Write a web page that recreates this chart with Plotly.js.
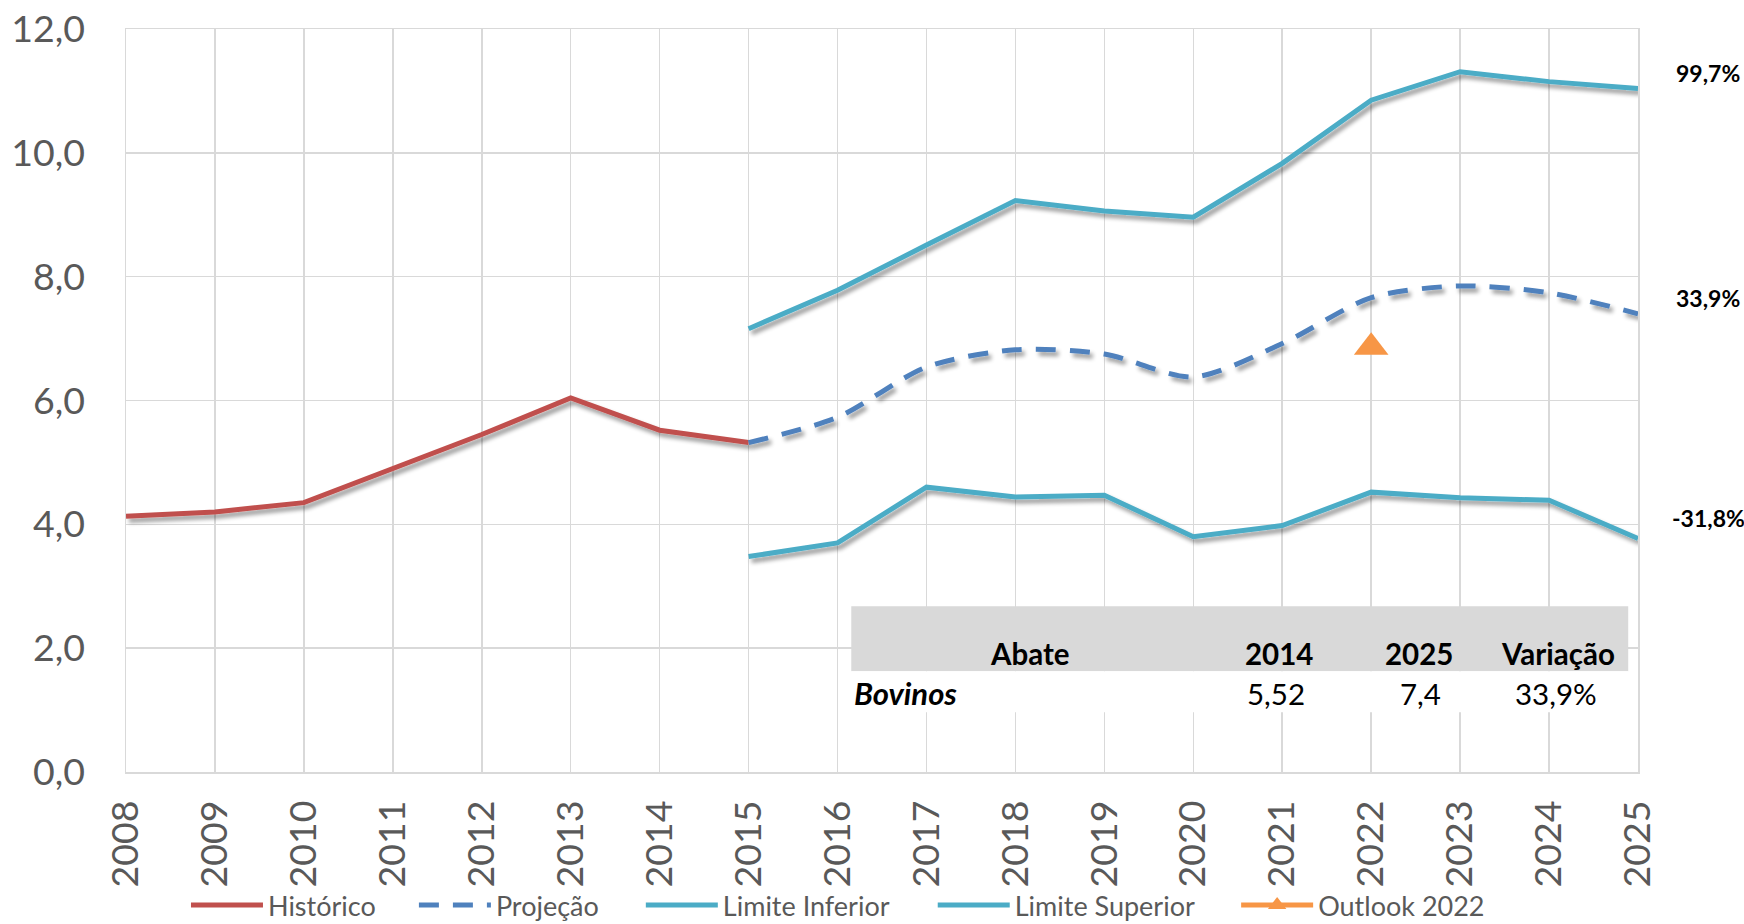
<!DOCTYPE html>
<html>
<head>
<meta charset="utf-8">
<script src="https://cdn.plot.ly/plotly-3.0.1.min.js"></script>
<style>
  html, body { margin: 0; padding: 0; background: #ffffff; }
  #chart { width: 1744px; height: 924px; }
  #chart .scatterlayer path.js-line { filter: url(#lineShadow); }
</style>
</head>
<body>
<svg width="0" height="0" style="position:absolute">
  <defs>
    <filter id="lineShadow" x="-10%" y="-10%" width="130%" height="140%" filterUnits="objectBoundingBox">
      <feGaussianBlur in="SourceAlpha" stdDeviation="2"/>
      <feOffset dx="3" dy="3.5" result="off"/>
      <feComponentTransfer><feFuncA type="linear" slope="0.4"/></feComponentTransfer>
      <feMerge><feMergeNode/><feMergeNode in="SourceGraphic"/></feMerge>
    </filter>
  </defs>
</svg>
<div id="chart"></div>
<script>
// ---- data ----
const years = [2008, 2009, 2010, 2011, 2012, 2013, 2014, 2015, 2016, 2017, 2018, 2019, 2020, 2021, 2022, 2023, 2024, 2025];
const histYears = [2008, 2009, 2010, 2011, 2012, 2013, 2014, 2015];
const historico = [4.13, 4.20, 4.35, 4.90, 5.45, 6.04, 5.52, 5.32];
const projYears = [2015, 2016, 2017, 2018, 2019, 2020, 2021, 2022, 2023, 2024, 2025];
const projecao = [5.32, 5.73, 6.54, 6.82, 6.75, 6.38, 6.92, 7.66, 7.85, 7.74, 7.40];
const limiteInferior = [3.48, 3.70, 4.60, 4.44, 4.47, 3.80, 3.98, 4.52, 4.43, 4.39, 3.77];
const limiteSuperior = [7.16, 7.78, 8.51, 9.23, 9.06, 8.96, 9.83, 10.85, 11.31, 11.15, 11.04];
const outlookYears = [2022];
const outlook2022 = [6.86];
const seriesNames = ["Histórico", "Projeção", "Limite Inferior", "Limite Superior", "Outlook 2022"];
const endLabels = ["99,7%", "33,9%", "-31,8%"];
const tableHeader = ["Abate", "2014", "2025", "Variação"];
const tableRowLabel = "Bovinos";
const tableRow = ["5,52", "7,4", "33,9%"];
const yTicks = [0, 2, 4, 6, 8, 10, 12];

// ---- styling ----
const FONT = "Lato, 'Noto Sans', sans-serif";
const GRID = "#d9d9d9";
const TICKC = "#595959";
const LW = 5;

const traces = [
  { x: histYears, y: historico, name: seriesNames[0], type: "scatter", mode: "lines", legend: "legend",
    line: { color: "#C0504D", width: LW } },
  { x: projYears, y: projecao, name: seriesNames[1], type: "scatter", mode: "lines", legend: "legend2",
    line: { color: "#4F81BD", width: LW, dash: "20px,14px", shape: "spline", smoothing: 0.8 } },
  { x: projYears, y: limiteInferior, name: seriesNames[2], type: "scatter", mode: "lines", legend: "legend3",
    line: { color: "#4BACC6", width: LW } },
  { x: projYears, y: limiteSuperior, name: seriesNames[3], type: "scatter", mode: "lines", legend: "legend4",
    line: { color: "#4BACC6", width: LW } },
  { x: outlookYears, y: outlook2022, name: seriesNames[4], type: "scatter", mode: "lines+markers", legend: "legend5",
    line: { color: "#F79646", width: LW },
    marker: { symbol: "triangle-up", size: 30, color: "#F79646" } }
];

const L = 126, R = 105.5, T = 29, B = 152.4;
const plotW = 1744 - L - R, plotH = 924 - T - B;
function px(xFull) { return (xFull - L) / plotW; }
function py(yFull) { return (924 - B - yFull) / plotH; }

const annotations = [];
const endY = [73, 298, 518];
endLabels.forEach((t, i) => {
  annotations.push({ xref: "paper", yref: "paper", x: px(1709), y: py(endY[i]),
    xanchor: "center", yanchor: "middle", showarrow: false, text: "<b>" + t + "</b>",
    font: { family: FONT, size: 23, color: "#000000" } });
});
const headX = [1030, 1279, 1419.5, 1558];
tableHeader.forEach((t, i) => {
  annotations.push({ xref: "paper", yref: "paper", x: px(headX[i]), y: py(653),
    xanchor: "center", yanchor: "middle", showarrow: false, text: "<b>" + t + "</b>",
    font: { family: FONT, size: 29.5, color: "#000000" } });
});
annotations.push({ xref: "paper", yref: "paper", x: px(852), y: py(693),
  xanchor: "left", yanchor: "middle", showarrow: false, text: "<b><i>" + tableRowLabel + "</i></b>",
  font: { family: FONT, size: 31, color: "#000000" } });
const rowX = [1276, 1420.5, 1556.5];
tableRow.forEach((t, i) => {
  annotations.push({ xref: "paper", yref: "paper", x: px(rowX[i]), y: py(693),
    xanchor: "center", yanchor: "middle", showarrow: false, text: t,
    font: { family: FONT, size: 29.5, color: "#000000" } });
});

const shapes = [
  { type: "rect", xref: "paper", yref: "paper", x0: px(851.5), x1: px(1628.7), y0: py(671), y1: py(606),
    fillcolor: "#d9d9d9", line: { width: 0 }, layer: "above" },
  { type: "rect", xref: "paper", yref: "paper", x0: px(851.5), x1: px(1628.7), y0: py(712), y1: py(671),
    fillcolor: "#ffffff", line: { width: 0 }, layer: "above" }
];

function legendAt(xFull) {
  return { orientation: "h", x: px(xFull - 5), y: py(905), xanchor: "left", yanchor: "middle",
    font: { family: FONT, size: 27, color: TICKC }, itemwidth: 72, bgcolor: "rgba(0,0,0,0)" };
}

const layout = {
  width: 1744, height: 924,
  margin: { l: L, r: R, t: T, b: B, pad: 0, autoexpand: false },
  paper_bgcolor: "#ffffff", plot_bgcolor: "#ffffff",
  separators: ",.",
  font: { family: FONT, color: TICKC },
  showlegend: true,
  legend: legendAt(191),
  legend2: legendAt(419),
  legend3: legendAt(646),
  legend4: legendAt(938),
  legend5: legendAt(1241.5),
  xaxis: { range: [2008, 2025], tickmode: "array", tickvals: years, ticktext: years.map(String),
    tickangle: -90, showgrid: true, gridcolor: GRID, gridwidth: 1.5,
    showline: true, linecolor: GRID, linewidth: 1.5, mirror: true, automargin: false,
    ticks: "", ticklabelstandoff: 12, zeroline: false,
    tickfont: { family: FONT, size: 37.5, color: TICKC } },
  yaxis: { range: [0, 12], tickmode: "array", tickvals: yTicks, tickformat: ".1f",
    showgrid: true, gridcolor: GRID, gridwidth: 1.5,
    showline: true, linecolor: GRID, linewidth: 1.5, mirror: true, automargin: false,
    ticks: "", ticklabelstandoff: 32, zeroline: false,
    tickfont: { family: FONT, size: 37.5, color: TICKC } },
  shapes: shapes,
  annotations: annotations
};

Plotly.newPlot("chart", traces, layout, { displayModeBar: false, staticPlot: true });
</script>
</body>
</html>
